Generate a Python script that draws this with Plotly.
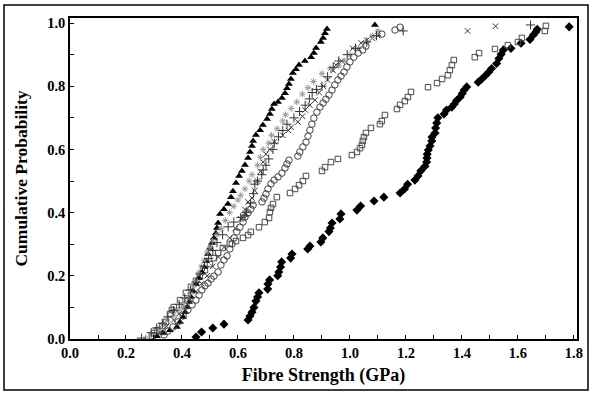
import plotly.graph_objects as go

# ---------------- data (fibre strength in GPa, cumulative probability) ----------------
diamond_x = [0.450, 0.470, 0.510, 0.550, 0.636, 0.643, 0.650, 0.657, 0.664, 0.670, 0.675, 0.706, 0.707, 0.713,
             0.742, 0.746, 0.752, 0.756, 0.788, 0.793, 0.849, 0.857, 0.896, 0.903, 0.925, 0.930, 0.936, 0.964,
             0.968, 1.025, 1.038, 1.086, 1.121, 1.179, 1.195, 1.206, 1.232, 1.243, 1.253, 1.268, 1.274, 1.275,
             1.276, 1.280, 1.286, 1.292, 1.293, 1.304, 1.306, 1.310, 1.314, 1.336, 1.345, 1.364, 1.373, 1.381,
             1.394, 1.401, 1.408, 1.417, 1.458, 1.470, 1.485, 1.496, 1.506, 1.524, 1.532, 1.540, 1.548, 1.575,
             1.611, 1.643, 1.655, 1.664, 1.669, 1.783]
diamond_y = [0.006, 0.022, 0.035, 0.047, 0.060, 0.073, 0.085, 0.100, 0.120, 0.133, 0.146, 0.158, 0.174, 0.187,
             0.200, 0.212, 0.228, 0.244, 0.256, 0.269, 0.285, 0.294, 0.307, 0.320, 0.340, 0.351, 0.367, 0.380,
             0.396, 0.408, 0.421, 0.437, 0.449, 0.462, 0.475, 0.490, 0.503, 0.516, 0.532, 0.547, 0.560, 0.573,
             0.585, 0.598, 0.611, 0.627, 0.639, 0.652, 0.668, 0.684, 0.700, 0.712, 0.725, 0.734, 0.744, 0.755,
             0.766, 0.777, 0.788, 0.798, 0.813, 0.822, 0.835, 0.845, 0.856, 0.872, 0.888, 0.901, 0.915, 0.920,
             0.936, 0.948, 0.962, 0.972, 0.980, 0.988]

square_x = [0.293, 0.300, 0.311, 0.329, 0.343, 0.357, 0.364, 0.371, 0.393, 0.414, 0.432, 0.450, 0.464, 0.482,
            0.500, 0.514, 0.529, 0.546, 0.571, 0.593, 0.618, 0.636, 0.646, 0.675, 0.696, 0.711, 0.714, 0.718,
            0.725, 0.739, 0.786, 0.804, 0.818, 0.832, 0.843, 0.900, 0.911, 0.932, 0.957, 1.007, 1.025, 1.036,
            1.043, 1.046, 1.050, 1.057, 1.075, 1.107, 1.114, 1.125, 1.168, 1.179, 1.196, 1.207, 1.218, 1.279,
            1.311, 1.329, 1.350, 1.357, 1.364, 1.371, 1.446, 1.461, 1.518, 1.564, 1.600, 1.614, 1.696, 1.700]
square_y = [0.009, 0.019, 0.028, 0.041, 0.054, 0.079, 0.092, 0.101, 0.123, 0.146, 0.165, 0.184, 0.199, 0.218,
            0.237, 0.256, 0.272, 0.288, 0.301, 0.310, 0.320, 0.329, 0.339, 0.354, 0.370, 0.383, 0.402, 0.415,
            0.427, 0.449, 0.462, 0.475, 0.487, 0.500, 0.516, 0.532, 0.544, 0.560, 0.570, 0.582, 0.592, 0.604,
            0.614, 0.627, 0.639, 0.652, 0.668, 0.680, 0.690, 0.709, 0.728, 0.741, 0.753, 0.766, 0.782, 0.797,
            0.810, 0.823, 0.835, 0.851, 0.867, 0.883, 0.892, 0.905, 0.918, 0.930, 0.940, 0.953, 0.975, 0.991]

triangle_x = [0.311, 0.332, 0.357, 0.382, 0.393, 0.404, 0.411, 0.418, 0.425, 0.432, 0.439, 0.450, 0.461, 0.471,
              0.479, 0.486, 0.493, 0.500, 0.507, 0.514, 0.521, 0.525, 0.529, 0.536, 0.550, 0.564, 0.575, 0.582,
              0.593, 0.604, 0.614, 0.625, 0.636, 0.643, 0.650, 0.654, 0.664, 0.679, 0.689, 0.704, 0.714, 0.721,
              0.729, 0.743, 0.757, 0.768, 0.775, 0.782, 0.789, 0.796, 0.807, 0.818, 0.839, 0.861, 0.871, 0.879,
              0.896, 0.904, 0.911, 0.918, 1.089]
triangle_y = [0.009, 0.019, 0.028, 0.038, 0.054, 0.070, 0.085, 0.101, 0.117, 0.133, 0.152, 0.174, 0.193, 0.212,
              0.228, 0.247, 0.269, 0.288, 0.304, 0.320, 0.335, 0.351, 0.367, 0.396, 0.411, 0.427, 0.449, 0.468,
              0.494, 0.516, 0.532, 0.551, 0.573, 0.592, 0.611, 0.627, 0.646, 0.661, 0.677, 0.696, 0.712, 0.728,
              0.744, 0.750, 0.763, 0.778, 0.794, 0.807, 0.823, 0.842, 0.854, 0.867, 0.880, 0.892, 0.905, 0.921,
              0.940, 0.953, 0.968, 0.981, 0.994]

xmark_x = [0.300, 0.320, 0.345, 0.370, 0.390, 0.410, 0.430, 0.450, 0.470, 0.490, 0.510, 0.530, 0.550, 0.570,
           0.590, 0.610, 0.625, 0.636, 0.650, 0.660, 0.670, 0.680, 0.690, 0.700, 0.714, 0.730, 0.760, 0.780,
           0.790, 0.814, 0.830, 0.840, 0.857, 0.875, 0.890, 0.905, 0.920, 0.940, 0.950, 0.970, 1.010, 1.040,
           1.060, 1.080, 1.100, 1.420, 1.520]
xmark_y = [0.005, 0.020, 0.040, 0.060, 0.080, 0.100, 0.125, 0.150, 0.175, 0.200, 0.230, 0.260, 0.290, 0.320,
           0.350, 0.380, 0.410, 0.434, 0.446, 0.470, 0.500, 0.530, 0.560, 0.585, 0.600, 0.624, 0.645, 0.660,
           0.670, 0.687, 0.705, 0.725, 0.740, 0.756, 0.780, 0.800, 0.820, 0.850, 0.867, 0.880, 0.920, 0.937,
           0.946, 0.952, 0.960, 0.975, 0.990]

star_x = [0.270, 0.290, 0.310, 0.330, 0.345, 0.370, 0.385, 0.400, 0.410, 0.420, 0.430, 0.440, 0.450, 0.460,
          0.470, 0.480, 0.490, 0.500, 0.510, 0.525, 0.540, 0.555, 0.570, 0.585, 0.600, 0.610, 0.625, 0.640,
          0.650, 0.670, 0.680, 0.690, 0.710, 0.720, 0.740, 0.760, 0.770, 0.790, 0.810, 0.830, 0.850, 0.870,
          0.900, 0.930, 0.960, 0.980, 1.000, 1.030, 1.060, 1.080, 1.100]
star_y = [0.003, 0.015, 0.030, 0.045, 0.060, 0.075, 0.090, 0.100, 0.115, 0.130, 0.145, 0.165, 0.185, 0.210,
          0.230, 0.250, 0.275, 0.290, 0.310, 0.330, 0.350, 0.375, 0.400, 0.420, 0.440, 0.455, 0.475, 0.500,
          0.520, 0.550, 0.575, 0.600, 0.620, 0.645, 0.665, 0.690, 0.710, 0.730, 0.750, 0.775, 0.795, 0.815,
          0.840, 0.855, 0.865, 0.880, 0.900, 0.920, 0.940, 0.960, 0.975]

circle_x = [0.336, 0.350, 0.368, 0.386, 0.404, 0.421, 0.436, 0.450, 0.461, 0.471, 0.482, 0.493, 0.504, 0.514,
            0.529, 0.539, 0.550, 0.561, 0.571, 0.579, 0.586, 0.596, 0.607, 0.618, 0.625, 0.636, 0.646, 0.654,
            0.686, 0.693, 0.700, 0.707, 0.718, 0.729, 0.743, 0.757, 0.768, 0.775, 0.782, 0.814, 0.821, 0.832,
            0.843, 0.850, 0.857, 0.864, 0.871, 0.882, 0.893, 0.904, 0.914, 0.925, 0.936, 0.946, 0.957, 0.968,
            0.979, 0.989, 1.000, 1.014, 1.029, 1.046, 1.057, 1.114, 1.161, 1.179]
circle_y = [0.013, 0.025, 0.038, 0.054, 0.073, 0.092, 0.108, 0.123, 0.139, 0.155, 0.168, 0.177, 0.190, 0.199,
            0.212, 0.234, 0.250, 0.263, 0.285, 0.301, 0.320, 0.339, 0.354, 0.370, 0.386, 0.399, 0.411, 0.424,
            0.434, 0.446, 0.459, 0.475, 0.491, 0.503, 0.513, 0.525, 0.541, 0.554, 0.566, 0.579, 0.592, 0.608,
            0.623, 0.642, 0.661, 0.680, 0.699, 0.718, 0.734, 0.747, 0.759, 0.772, 0.788, 0.804, 0.820, 0.832,
            0.845, 0.861, 0.877, 0.892, 0.905, 0.915, 0.927, 0.965, 0.978, 0.987]

plus_x = [0.255, 0.290, 0.310, 0.330, 0.350, 0.370, 0.390, 0.410, 0.430, 0.450, 0.465, 0.480, 0.495, 0.510,
          0.525, 0.545, 0.565, 0.585, 0.610, 0.625, 0.630, 0.645, 0.655, 0.660, 0.670, 0.685, 0.690, 0.700,
          0.710, 0.725, 0.730, 0.745, 0.760, 0.775, 0.800, 0.820, 0.840, 0.855, 0.865, 0.880, 0.900, 0.920,
          0.940, 0.960, 0.990, 1.020, 1.060, 1.095, 1.190, 1.645]
plus_y = [0.003, 0.020, 0.035, 0.050, 0.070, 0.090, 0.110, 0.130, 0.155, 0.180, 0.205, 0.230, 0.255, 0.280,
          0.305, 0.330, 0.355, 0.370, 0.385, 0.390, 0.400, 0.430, 0.460, 0.490, 0.500, 0.520, 0.535, 0.550,
          0.570, 0.600, 0.620, 0.640, 0.660, 0.680, 0.700, 0.720, 0.740, 0.760, 0.780, 0.790, 0.800, 0.830,
          0.860, 0.880, 0.900, 0.920, 0.940, 0.960, 0.975, 0.994]

x_tick_vals = [0.0, 0.2, 0.4, 0.6, 0.8, 1.0, 1.2, 1.4, 1.6, 1.8]
y_tick_vals = [0.0, 0.2, 0.4, 0.6, 0.8, 1.0]

# ---------------- figure ----------------
FONT = "Liberation Serif"
fig = go.Figure()

series = [
    (diamond_x, diamond_y, dict(symbol="diamond", size=7, color="black")),
    (square_x, square_y, dict(symbol="square-open", size=5.5, color="#4a4a4a", line=dict(width=1, color="#4a4a4a"))),
    (triangle_x, triangle_y, dict(symbol="triangle-up", size=7, color="black")),
    (xmark_x, xmark_y, dict(symbol="x-thin-open", size=5.5, color="#333333", line=dict(width=1, color="#333333"))),
    (star_x, star_y, dict(symbol="asterisk-open", size=5.5, color="#999999", line=dict(width=1, color="#999999"))),
    (circle_x, circle_y, dict(symbol="circle-open", size=6.5, color="#444444", line=dict(width=1, color="#444444"))),
    (plus_x, plus_y, dict(symbol="cross-thin-open", size=6.5, color="#333333", line=dict(width=1, color="#333333"))),
]
for xs, ys, mk in series:
    fig.add_trace(go.Scatter(x=xs, y=ys, mode="markers", marker=mk, showlegend=False, hoverinfo="skip"))

fig.update_layout(
    width=592, height=394,
    margin=dict(l=70, r=15, t=18, b=55),
    paper_bgcolor="white", plot_bgcolor="white",
    font=dict(family=FONT, color="black"),
    showlegend=False,
)
fig.update_xaxes(
    range=[0, 1.811], tickvals=x_tick_vals, tickformat=".1f",
    ticks="inside", ticklen=4, tickcolor="black", tickwidth=1,
    minor=dict(dtick=0.1, ticks="inside", ticklen=4, tickcolor="black"),
    showline=True, linecolor="black", linewidth=1.5, mirror=True,
    showgrid=False, zeroline=False,
    tickfont=dict(family=FONT, size=14.5, color="black", weight="bold"),
    title=dict(text="Fibre Strength (GPa)", font=dict(family=FONT, size=18, color="black", weight="bold"), standoff=8),
    automargin=False,
)
fig.update_yaxes(
    range=[0, 1.016], tickvals=y_tick_vals, tickformat=".1f",
    ticks="inside", ticklen=4, tickcolor="black", tickwidth=1,
    minor=dict(dtick=0.1, ticks="inside", ticklen=4, tickcolor="black"),
    showline=True, linecolor="black", linewidth=1.5, mirror=True,
    showgrid=False, zeroline=False,
    tickfont=dict(family=FONT, size=14.5, color="black", weight="bold"),
    title=dict(text="Cumulative Probability", font=dict(family=FONT, size=17.5, color="black", weight="bold"), standoff=15),
    automargin=False,
)
# outer frame around the whole chart
fig.add_shape(type="rect", xref="paper", yref="paper",
              x0=(4 - 70) / 507, x1=(588 - 70) / 507, y0=(339 - 390) / 321, y1=(339 - 5) / 321,
              line=dict(color="black", width=1.5), fillcolor="rgba(0,0,0,0)", layer="below")

fig.write_html("out.html")
